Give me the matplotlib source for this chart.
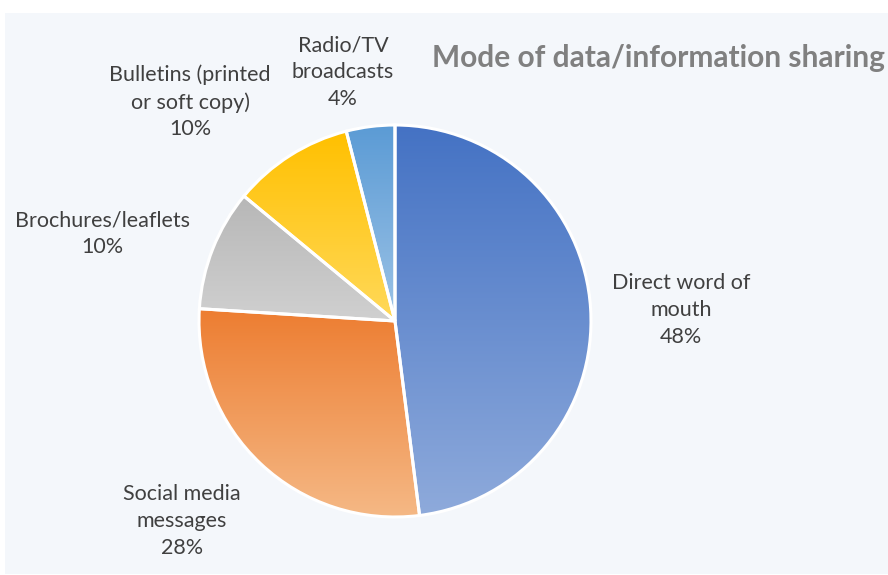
import numpy as np
import matplotlib.pyplot as plt
from matplotlib.patches import Rectangle
from matplotlib.colors import LinearSegmentedColormap

labels = ["Direct word of\nmouth", "Social media\nmessages", "Brochures/leaflets",
          "Bulletins (printed\nor soft copy)", "Radio/TV\nbroadcasts"]
values = [48, 28, 10, 10, 4]
top_colors = ["#4472c4", "#ed7d31", "#b7b7b7", "#ffc000", "#5b9bd5"]
bottom_colors = ["#8eaadb", "#f5b986", "#d0d0d0", "#ffd95a", "#9dc3e6"]

# label centres in pixel coords (x, y from top)
label_pos = [(681, 310), (182, 521), (102, 234), (190, 102), (343, 72)]

plt.rcParams['font.family'] = ['Lato', 'DejaVu Sans']

fig = plt.figure(figsize=(8.88, 5.75), dpi=100)
ax = fig.add_axes([0, 0, 1, 1])
ax.set_xlim(0, 888)
ax.set_ylim(0, 575)
ax.set_aspect('equal')
ax.axis('off')

# background panel
ax.add_patch(Rectangle((5, 575 - 574), 883, 561, facecolor="#f4f7fb",
                       edgecolor="none", zorder=0))

cx, cy, r = 395, 575 - 321, 196
wedges, _ = ax.pie(values, startangle=90, counterclock=False, radius=r,
                   center=(cx, cy), frame=True,
                   wedgeprops=dict(edgecolor="white", linewidth=2.2))
ax.set_xlim(0, 888)
ax.set_ylim(0, 575)
ax.axis('off')

# vertical gradient inside each slice
grad = np.linspace(0, 1, 256).reshape(-1, 1)
for w, c0, c1 in zip(wedges, top_colors, bottom_colors):
    w.set_facecolor("none")
    w.set_zorder(3)
    verts = w.get_path().vertices
    x0, x1 = verts[:, 0].min(), verts[:, 0].max()
    y0, y1 = verts[:, 1].min(), verts[:, 1].max()
    cmap = LinearSegmentedColormap.from_list("g", [c1, c0])
    im = ax.imshow(grad, cmap=cmap, extent=(x0, x1, y0, y1), origin="lower",
                   aspect="auto", zorder=2)
    im.set_clip_path(w)

for lab, v, (px, py) in zip(labels, values, label_pos):
    ax.text(px, 575 - py, f"{lab}\n{v}%", ha="center", va="center",
            fontsize=15.5, color="#404040", linespacing=1.42)

ax.text(885, 575 - 58, "Mode of data/information sharing", ha="right",
        va="center", fontsize=21.5, fontweight="bold", color="#808080")

fig.savefig("out.png", dpi=100)
